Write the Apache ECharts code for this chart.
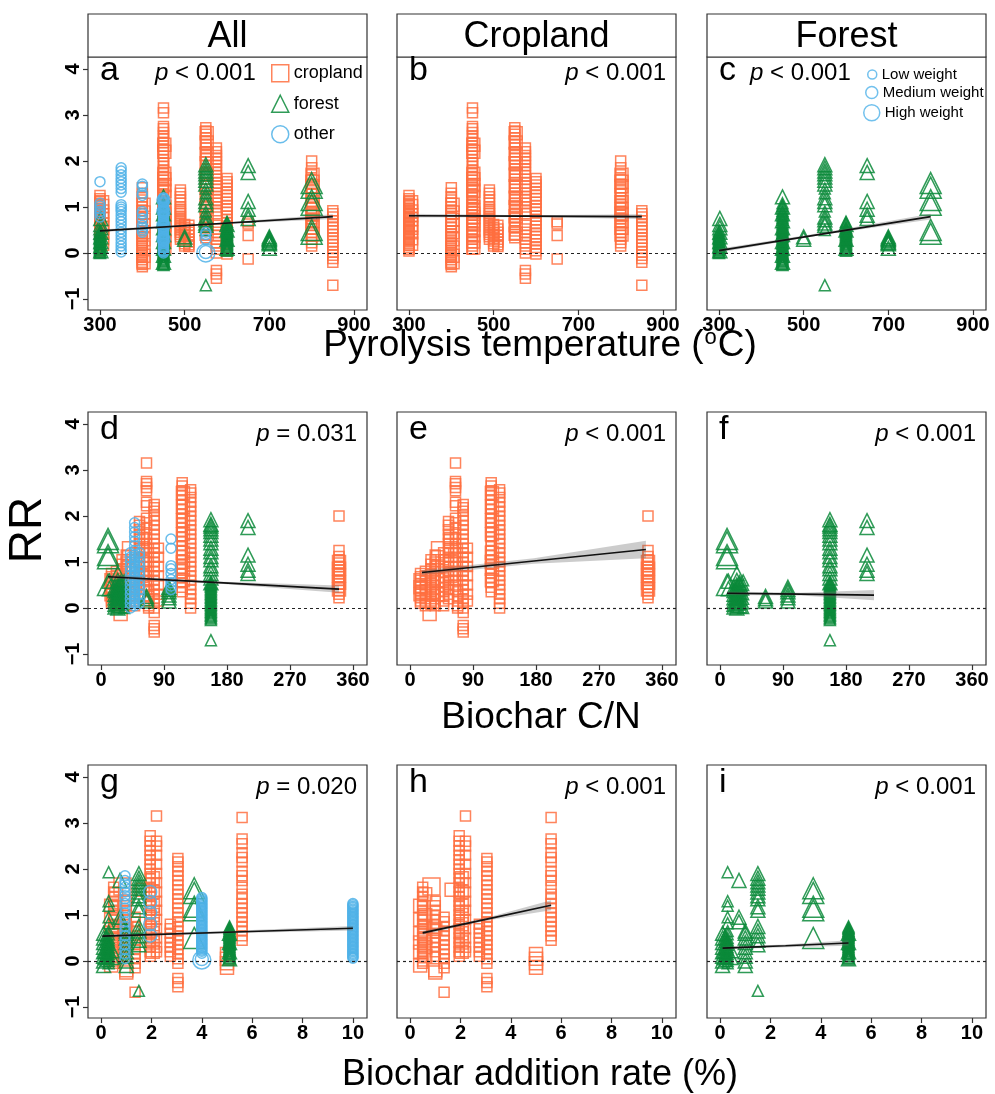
<!DOCTYPE html>
<html>
<head>
<meta charset="utf-8">
<script src="https://cdn.jsdelivr.net/npm/echarts@6/dist/echarts.min.js"></script>
<style>
html, body { margin: 0; background: #fff; }
#chart { width: 995px; height: 1094px; }
</style>
</head>
<body>
<div id="chart"></div>
<script>
// columns of points: [x, weight class (1 low, 2 medium, 3 high), [RR values]]
const tempCrop = [
  [300, 1, [1.25, 1.18, 1.12, 1.08, 1.04, 1.0, 0.96, 0.92, 0.88, 0.84, 0.8, 0.76, 0.72, 0.68, 0.64, 0.6, 0.56, 0.52, 0.48, 0.44, 0.4, 0.36, 0.32, 0.28, 0.24, 0.2, 0.16, 0.12, 0.08, 0.04]],
  [305, 2, [1.1, 1.02, 0.9, 0.82, 0.74, 0.62, 0.55, 0.45, 0.32, 0.2]],
  [400, 1, [1.42, 1.3, 1.22, 1.15, 1.08, 1.0, 0.92, 0.85, 0.78, 0.7, 0.62, 0.55, 0.48, 0.42, 0.35, 0.28, 0.22, 0.15, 0.1, 0.05, 0.0, -0.05, -0.1, -0.15, -0.2, -0.25, -0.3]],
  [403, 2, [1.05, 0.88, 0.72, 0.6, 0.45, 0.3, 0.12, -0.06, -0.2]],
  [450, 1, [3.15, 3.05, 2.75, 2.7, 2.62, 2.55, 2.48, 2.4, 2.32, 2.25, 2.18, 2.1, 2.02, 1.95, 1.88, 1.8, 1.72, 1.65, 1.58, 1.5, 1.42, 1.35, 1.28, 1.2, 1.12, 1.05, 0.98, 0.9, 0.82, 0.75, 0.68, 0.6, 0.52, 0.45, 0.38, 0.3, 0.22, 0.15, 0.08]],
  [452, 2, [2.35, 2.2, 1.72, 1.6, 1.48, 1.35, 1.22, 1.0, 0.92, 0.85, 0.78, 0.7, 0.62, 0.5, 0.38, 0.25, 0.12]],
  [490, 1, [1.37, 1.3, 1.22, 1.15, 1.08, 1.0, 0.95, 0.9, 0.85, 0.8, 0.75, 0.7, 0.65, 0.6, 0.55, 0.5, 0.45, 0.4, 0.35, 0.3]],
  [500, 1, [0.62, 0.56, 0.5, 0.44, 0.38, 0.32, 0.26, 0.2, 0.15]],
  [510, 1, [0.6, 0.52, 0.45, 0.38, 0.3, 0.24, 0.18, 0.14]],
  [550, 1, [2.72, 2.65, 2.58, 2.5, 2.42, 2.35, 2.28, 2.2, 2.12, 2.05, 1.98, 1.9, 1.82, 1.75, 1.68, 1.6, 1.52, 1.45, 1.38, 1.3, 1.22, 1.15, 1.08, 1.0, 0.92, 0.85, 0.78, 0.7, 0.62, 0.55, 0.48, 0.4, 0.33]],
  [552, 2, [2.6, 2.4, 2.15, 1.95, 1.7, 1.45, 1.2, 1.0, 0.8, 0.6, 0.42]],
  [575, 1, [2.28, 2.2, 2.12, 2.05, 1.98, 1.9, 1.82, 1.75, 1.68, 1.6, 1.52, 1.45, 1.38, 1.3, 1.22, 1.15, 1.08, 1.0, 0.92, 0.85, 0.6, 0.52, 0.45, 0.38, 0.3, 0.22, 0.15, 0.08, 0.0, -0.38, -0.46, -0.55]],
  [600, 1, [1.62, 1.55, 1.48, 1.4, 1.32, 1.25, 1.18, 1.1, 1.02, 0.95, 0.88, 0.8, 0.72, 0.65, 0.58, 0.5, 0.42, 0.35, 0.28, 0.2, 0.12, 0.05, -0.02]],
  [650, 1, [0.68, 0.63, 0.38, -0.13]],
  [800, 1, [2.0, 1.85, 1.7, 1.6, 1.5, 1.42, 1.35, 1.28, 1.2, 1.12, 1.05, 0.98, 0.9, 0.82, 0.75, 0.68, 0.6, 0.52, 0.45, 0.38, 0.3, 0.22, 0.15]],
  [802, 2, [1.7, 1.55, 1.45, 1.25, 1.1, 0.95, 0.85, 0.7, 0.55, 0.4]],
  [850, 1, [0.92, 0.85, 0.78, 0.7, 0.62, 0.55, 0.48, 0.4, 0.32, 0.25, 0.18, 0.1, 0.02, -0.05, -0.12, -0.2, -0.7]]
];
const tempForest = [
  [300, 1, [0.0, 0.02, 0.05, 0.07, 0.09, 0.12, 0.14, 0.16, 0.19, 0.21, 0.24, 0.26, 0.29, 0.31, 0.34, 0.37, 0.4, 0.44, 0.48]],
  [302, 2, [0.05, 0.15, 0.25, 0.35, 0.45, 0.55, 0.62, 0.75]],
  [450, 1, [-0.26, -0.24, -0.21, -0.18, -0.16, -0.13, -0.1, -0.08, -0.05, -0.02, 0.0, 0.03, 0.06, 0.08, 0.11, 0.14, 0.17, 0.2, 0.23, 0.26, 0.29, 0.32, 0.35, 0.38, 0.41, 0.44, 0.47, 0.5, 0.53, 0.56, 0.6, 0.64, 0.68, 0.72, 0.76, 0.8, 0.84, 0.88, 0.92, 0.97, 1.02, 1.08]],
  [450, 2, [1.22, 1.0, 0.85, 0.7, 0.55, 0.4, 0.25, 0.1, -0.05, -0.2]],
  [500, 2, [0.35, 0.3]],
  [550, 2, [1.92, 1.85, 1.78, 1.72, 1.65, 1.58, 1.5, 1.2, 1.12, 1.05, 0.78, 0.72, 0.65, 0.6]],
  [550, 1, [1.4, 1.3, 0.9, 0.5, -0.7]],
  [600, 1, [0.05, 0.08, 0.1, 0.13, 0.15, 0.18, 0.2, 0.23, 0.25, 0.28, 0.3, 0.33, 0.35, 0.38, 0.4, 0.43, 0.45, 0.48, 0.5, 0.53, 0.55, 0.6, 0.64, 0.68]],
  [600, 2, [0.1, 0.3, 0.5, 0.62]],
  [650, 2, [1.9, 1.75, 1.12, 0.95, 0.82, 0.75]],
  [700, 2, [0.35, 0.32, 0.3, 0.27, 0.24, 0.22, 0.2, 0.1]],
  [800, 3, [1.52, 1.42, 1.15, 1.05, 0.5, 0.42]]
];
const tempOther = [
  [300, 1, [1.55, 1.08, 1.02, 0.96, 0.9, 0.85, 0.78]],
  [350, 1, [1.85, 1.78, 1.7, 1.62, 1.55, 1.48, 1.4, 1.32, 1.05, 1.0, 0.95, 0.9, 0.82, 0.75, 0.68, 0.6, 0.52, 0.45, 0.38, 0.3, 0.22, 0.15, 0.08, 0.02]],
  [400, 1, [1.5, 1.45, 1.3, 1.25, 0.9, 0.85, 0.75, 0.6, 0.55, 0.5, 0.45]],
  [450, 1, [0.0, 0.03, 0.05, 0.08, 0.1, 0.12, 0.14, 0.17, 0.2, 0.22, 0.25, 0.28, 0.3, 0.32, 0.34, 0.37, 0.4, 0.42, 0.45, 0.48, 0.5, 0.52, 0.55, 0.58, 0.6, 0.62, 0.65, 0.68, 0.7, 0.72, 0.75, 0.78, 0.8, 0.82, 0.85, 0.88, 0.9, 0.92, 0.95, 0.98, 1.0, 1.02, 1.05, 1.08, 1.1, 1.12, 1.15, 1.18, 1.2]],
  [450, 2, [0.3, 0.6, 0.9, 1.15]],
  [550, 3, [0.0]],
  [550, 2, [0.02]],
  [550, 1, [0.45, 0.4, 0.3]]
];

const cnCrop = [
  [15, 1, [0.75, 0.68, 0.6, 0.52, 0.45, 0.38, 0.3, 0.22, 0.15, 0.1]],
  [15, 2, [0.6, 0.45, 0.3]],
  [22, 1, [0.8, 0.7, 0.6, 0.5, 0.4, 0.3, 0.2, 0.1, 0.05]],
  [28, 2, [-0.13]],
  [30, 1, [1.05, 0.95, 0.85, 0.75, 0.65, 0.55, 0.45, 0.35, 0.25, 0.15, 0.08]],
  [36, 1, [1.15, 1.0, 0.9, 0.8, 0.7, 0.6, 0.5, 0.4, 0.3, 0.2, 0.1, 0.05]],
  [40, 2, [1.3, 1.1, 0.9, 0.6, 0.3]],
  [48, 1, [1.2, 1.05, 0.9, 0.78, 0.65, 0.55, 0.45, 0.35, 0.25, 0.15, 0.05]],
  [55, 1, [1.88, 1.8, 1.7, 1.6, 1.5, 1.4, 1.3, 1.2, 1.1, 1.0, 0.9, 0.8, 0.7, 0.6, 0.5, 0.4, 0.3, 0.2]],
  [58, 2, [1.5, 1.3, 1.0, 0.7]],
  [65, 1, [3.15, 2.75, 2.7, 2.62, 2.55, 2.3, 2.22, 1.95, 1.85, 1.75, 1.6, 1.5, 1.4, 1.3, 1.2, 1.1, 1.0, 0.9, 0.8, 0.7, 0.6, 0.5, 0.4]],
  [68, 1, [0.35, 0.25, 0.15, 0.05, 0.0]],
  [76, 1, [2.25, 2.18, 2.1, 2.0, 1.9, 1.8, 1.7, 1.6, 1.5, 1.4, 1.3, 1.2, 1.1, 1.0, 0.9, 0.8, 0.7, 0.6, 0.5, 0.4, 0.3, 0.2, 0.1, 0.0, -0.1, -0.38, -0.45, -0.52]],
  [82, 1, [1.3, 1.1, 0.9, 0.7, 0.5, 0.3, 0.15]],
  [116, 1, [2.72, 2.65, 2.55, 2.45, 2.35, 2.25, 2.15, 2.05, 1.95, 1.85, 1.75, 1.65, 1.55, 1.45, 1.35, 1.25, 1.15, 1.05, 0.95, 0.85, 0.75, 0.65, 0.55, 0.45, 0.35]],
  [117, 2, [2.5, 2.2, 1.9, 1.6, 1.2, 1.0, 0.85, 0.6]],
  [128, 1, [2.57, 2.5, 2.4, 2.3, 2.2, 2.1, 2.0, 1.9, 1.8, 1.7, 1.6, 1.5, 1.4, 1.3, 1.2, 1.1, 1.0, 0.9, 0.8, 0.7, 0.6, 0.5, 0.4, 0.3, 0.2, 0.1, 0.0]],
  [340, 1, [2.0, 1.25, 1.12, 1.05, 0.98, 0.9, 0.82, 0.75, 0.68, 0.6, 0.52, 0.45, 0.38, 0.3, 0.22]],
  [340, 2, [1.0, 0.85, 0.7, 0.55, 0.4]]
];
const cnForest = [
  [10, 3, [1.5, 1.43, 1.15, 1.08, 0.5]],
  [12, 2, [0.58, 0.42]],
  [20, 2, [0.45, 0.38, 0.3, 0.22, 0.15, 0.08, 0.02]],
  [24, 2, [0.75, 0.6, 0.5, 0.45, 0.4, 0.35, 0.3, 0.25, 0.2, 0.15, 0.1, 0.05, 0.0]],
  [28, 2, [0.55, 0.5, 0.42, 0.35, 0.28, 0.2, 0.12, 0.05]],
  [33, 1, [0.6, 0.5, 0.4, 0.3, 0.2, 0.1, 0.0]],
  [65, 2, [0.25, 0.2, 0.15]],
  [97, 2, [0.45, 0.4, 0.35, 0.28, 0.22, 0.15]],
  [157, 1, [-0.26, -0.23, -0.2, -0.17, -0.14, -0.11, -0.08, -0.05, -0.02, 0.01, 0.04, 0.07, 0.1, 0.13, 0.16, 0.19, 0.22, 0.25, 0.28, 0.31, 0.34, 0.37, 0.4, 0.43, 0.46, 0.49, 0.52, 0.55, -0.7]],
  [157, 2, [1.92, 1.82, 1.78, 1.72, 1.66, 1.58, 1.5, 1.42, 1.3, 1.22, 1.12, 1.05, 0.92, 0.85, 0.75, 0.65, 0.55]],
  [210, 2, [1.9, 1.75, 1.15, 0.95, 0.82, 0.75]]
];
const cnOther = [
  [42, 1, [1.2, 1.1, 1.0, 0.9, 0.8, 0.7, 0.6, 0.5, 0.4, 0.3, 0.2, 0.1, 0.0]],
  [48, 1, [1.85, 1.75, 1.65, 1.55, 1.45, 1.35, 1.25, 1.15, 1.1, 1.05, 1.0, 0.95, 0.9, 0.85, 0.8, 0.75, 0.7, 0.65, 0.6, 0.55, 0.5, 0.45, 0.4, 0.35, 0.3, 0.25, 0.2, 0.15, 0.1, 0.05]],
  [55, 1, [1.2, 1.12, 1.0, 0.9, 0.8, 0.7, 0.6, 0.5, 0.4, 0.3, 0.2, 0.1]],
  [100, 1, [1.5, 1.3, 0.92, 0.85, 0.75, 0.62, 0.55, 0.48, 0.4]]
];

const rateCrop = [
  [0.5, 1, [1.6, 1.5, 1.4, 1.3, 1.2, 1.1, 1.0, 0.9, 0.8, 0.7, 0.6, 0.5, 0.4, 0.3, 0.2, 0.1, 0.0, -0.05]],
  [0.4, 2, [1.2, 0.9, 0.6, 0.4, 0.2, -0.1]],
  [0.6, 2, [1.45, 1.0, 0.75, 0.5, 0.3, 0.1]],
  [0.85, 3, [1.62]],
  [1.0, 1, [1.3, 1.2, 1.1, 1.0, 0.9, 0.8, 0.7, 0.6, 0.5, 0.4, 0.3, 0.2, 0.1]],
  [1.0, 2, [-0.2, -0.25, 0.7]],
  [1.35, 1, [0.95, 0.85, 0.75, 0.65, 0.55, 0.45, 0.35, 0.25, 0.15, 0.05, -0.05, -0.15, -0.68]],
  [1.65, 2, [1.55]],
  [1.95, 1, [2.72, 2.6, 2.5, 2.4, 2.3, 2.2, 2.1, 2.0, 1.9, 1.8, 1.7, 1.6, 1.5, 1.4, 1.3, 1.2, 1.1, 1.0, 0.9, 0.8, 0.7, 0.6, 0.5, 0.4, 0.3, 0.2, 0.1]],
  [2.05, 2, [1.8, 1.5, 1.2, 1.0, 0.8, 0.6, 0.4, 0.2]],
  [2.2, 1, [3.15, 2.6, 2.5, 2.3, 2.1, 1.9, 1.7, 1.5, 1.3, 1.1, 0.9, 0.7, 0.5, 0.3, 0.2]],
  [2.75, 1, [0.8, 0.7, 0.6, 0.5, 0.4, 0.3, 0.2, 0.1]],
  [3.05, 1, [2.23, 2.15, 2.05, 1.95, 1.85, 1.75, 1.65, 1.55, 1.45, 1.35, 1.25, 1.15, 1.05, 0.95, 0.85, 0.75, 0.65, 0.55, 0.45, 0.35, 0.25, 0.15, 0.05, -0.05, -0.38, -0.47, -0.56]],
  [5.0, 2, [0.15, 0.05, -0.05, -0.15]],
  [5.6, 1, [3.12, 2.65, 2.55, 2.35, 2.25, 2.15, 1.95, 1.85, 1.75, 1.6, 1.45, 1.35, 1.25, 1.15, 1.05, 0.95, 0.85, 0.75, 0.65, 0.55, 0.45]]
];
const rateForest = [
  [0.1, 2, [0.6, 0.5, 0.4, 0.3, 0.2, 0.1, 0.0, -0.1]],
  [0.2, 1, [0.55, 0.48, 0.42, 0.36, 0.3, 0.24, 0.18, 0.12, 0.06, 0.0]],
  [0.3, 1, [1.93, 1.3, 1.2, 0.95, 0.82, 0.65, 0.58, 0.5, 0.45, 0.4, 0.35, 0.3, 0.25, 0.2, 0.15, 0.1, 0.05, 0.0, -0.05]],
  [0.3, 3, [0.3, 0.15]],
  [0.75, 2, [1.75, 0.95, 0.85]],
  [1.0, 2, [0.65, 0.6, 0.5, 0.4, 0.3, 0.2, 0.1, 0.0, -0.1]],
  [1.5, 2, [1.9, 1.8, 1.72, 1.65, 1.58, 1.5, 1.42, 1.35, 1.18, 1.1, 0.75, 0.65, 0.55, 0.45, 0.35]],
  [1.5, 1, [-0.65]],
  [3.7, 3, [1.58, 1.48, 1.18, 1.1, 0.5]],
  [5.1, 1, [0.75, 0.72, 0.7, 0.67, 0.65, 0.62, 0.6, 0.57, 0.55, 0.52, 0.5, 0.47, 0.45, 0.42, 0.4, 0.37, 0.35, 0.32, 0.3, 0.27, 0.25, 0.22, 0.2, 0.17, 0.15, 0.12, 0.1, 0.07, 0.05]],
  [5.1, 2, [0.6, 0.4, 0.2, 0.05]]
];
const rateOther = [
  [0.95, 1, [1.85, 1.75, 1.68, 1.6, 1.5, 1.42, 1.35, 1.25, 1.15, 1.05, 0.95, 0.85, 0.75, 0.65, 0.55, 0.45, 0.35, 0.25, 0.15, 0.05]],
  [1.95, 2, [1.5, 1.28, 1.05, 0.8, 0.55]],
  [4.0, 1, [1.38, 1.35, 1.32, 1.29, 1.26, 1.23, 1.2, 1.17, 1.14, 1.11, 1.08, 1.05, 1.02, 0.99, 0.96, 0.93, 0.9, 0.87, 0.84, 0.81, 0.78, 0.75, 0.72, 0.69, 0.66, 0.63, 0.6, 0.57, 0.54, 0.51, 0.48, 0.45, 0.42, 0.39, 0.36, 0.33, 0.3, 0.27, 0.24, 0.21, 0.17]],
  [4.0, 3, [0.02]],
  [4.0, 2, [0.04]],
  [10, 1, [1.25, 1.22, 1.19, 1.16, 1.13, 1.1, 1.07, 1.04, 1.01, 0.98, 0.95, 0.92, 0.89, 0.86, 0.83, 0.8, 0.77, 0.74, 0.71, 0.68, 0.65, 0.62, 0.59, 0.56, 0.53, 0.5, 0.47, 0.44, 0.41, 0.38, 0.35, 0.32, 0.29, 0.26, 0.23, 0.2, 0.17, 0.14, 0.11, 0.08, 0.06]]
];

// fitted lines: [x, fit, lower CI, upper CI]
const fitA = [[300, 0.48, 0.45, 0.51], [575, 0.635, 0.62, 0.65], [850, 0.79, 0.74, 0.84]];
const fitB = [[300, 0.81, 0.77, 0.85], [575, 0.80, 0.78, 0.82], [850, 0.79, 0.74, 0.84]];
const fitC = [[300, 0.05, 0.01, 0.09], [550, 0.42, 0.40, 0.45], [800, 0.79, 0.73, 0.85]];
const fitD = [[10, 0.68, 0.64, 0.72], [175, 0.545, 0.52, 0.57], [340, 0.41, 0.33, 0.49]];
const fitE = [[17, 0.77, 0.72, 0.82], [177, 1.02, 0.96, 1.08], [337, 1.27, 1.08, 1.46]];
const fitF = [[10, 0.32, 0.28, 0.36], [115, 0.30, 0.27, 0.33], [220, 0.28, 0.17, 0.39]];
const fitG = [[0.05, 0.54, 0.51, 0.57], [5, 0.625, 0.60, 0.65], [10, 0.71, 0.66, 0.76]];
const fitH = [[0.5, 0.61, 0.57, 0.65], [3.05, 0.91, 0.88, 0.94], [5.6, 1.21, 1.1, 1.32]];
const fitI = [[0.1, 0.28, 0.25, 0.31], [2.6, 0.33, 0.30, 0.36], [5.1, 0.39, 0.33, 0.45]];

const pValues = ['< 0.001', '< 0.001', '< 0.001', '= 0.031', '< 0.001', '< 0.001', '= 0.020', '< 0.001', '< 0.001'];
const panelLetters = ['a', 'b', 'c', 'd', 'e', 'f', 'g', 'h', 'i'];
const stripNames = ['All', 'Cropland', 'Forest'];
const tempTicks = [300, 500, 700, 900];
const cnTicks = [0, 90, 180, 270, 360];
const rateTicks = [0, 2, 4, 6, 8, 10];
const rrTicks = [-1, 0, 1, 2, 3, 4];

const FONT = '"Liberation Sans", Arial, Helvetica, sans-serif';
const COLORS = { cropland: '#FF6F40', forest: '#0B8A3A', other: '#4FB1E8' };
const SHAPES = { cropland: 'rect', forest: 'triangle', other: 'circle' };
const SIZES = { rect: [0, 10, 13, 17], triangle: [0, 11, 14, 21], circle: [0, 10, 13, 18] };

const LEFTS = [88, 397, 707], TOPS = [57, 412, 765], W = 279, H = 253;

const rows = [
  { ticks: tempTicks, min: 271.7, max: 930.7, data: { cropland: tempCrop, forest: tempForest, other: tempOther }, fits: [fitA, fitB, fitC] },
  { ticks: cnTicks, min: -18.6, max: 380, data: { cropland: cnCrop, forest: cnForest, other: cnOther }, fits: [fitD, fitE, fitF] },
  { ticks: rateTicks, min: -0.52, max: 10.56, data: { cropland: rateCrop, forest: rateForest, other: rateOther }, fits: [fitG, fitH, fitI] }
];
const colGroups = [['cropland', 'forest', 'other'], ['cropland'], ['forest']];

function points(cols) {
  const out = [];
  cols.forEach(([x, w, ys]) => ys.forEach(y => out.push([x, y, w])));
  return out;
}

const grids = [], xAxes = [], yAxes = [], series = [], graphics = [];

rows.forEach((row, r) => {
  colGroups.forEach((groups, c) => {
    const gi = r * 3 + c;
    grids.push({ left: LEFTS[c], top: TOPS[r], width: W, height: H, show: true, borderColor: '#333', borderWidth: 1.2, backgroundColor: '#fff' });
    xAxes.push({
      type: 'value', gridIndex: gi, min: row.min, max: row.max,
      axisLine: { show: false, onZero: false }, splitLine: { show: false },
      axisTick: { show: true, length: 5, customValues: row.ticks, lineStyle: { color: '#333', width: 1.2 } },
      axisLabel: { customValues: row.ticks, margin: 5, color: '#000', fontSize: 20, fontWeight: 'bold', fontFamily: FONT }
    });
    yAxes.push({
      type: 'value', gridIndex: gi, min: -1.24, max: 4.26,
      axisLine: { show: false, onZero: false }, splitLine: { show: false },
      axisTick: { show: c === 0, length: 5, customValues: rrTicks, lineStyle: { color: '#333', width: 1.2 } },
      axisLabel: { show: c === 0, customValues: rrTicks, rotate: 90, margin: 5, color: '#000', fontSize: 20, fontWeight: 'bold', fontFamily: FONT,
        formatter: v => String(v).replace('-', '\u2212') }
    });
    groups.forEach((g, k) => {
      const shape = SHAPES[g];
      const s = {
        name: g, type: 'scatter', xAxisIndex: gi, yAxisIndex: gi,
        symbol: shape,
        symbolSize: v => SIZES[shape][v[2]],
        data: points(row.data[g]),
        itemStyle: { color: 'rgba(255,255,255,0)', borderColor: COLORS[g], borderWidth: 1.5, opacity: 0.85 },
        z: 2
      };
      if (k === 0) {
        s.markLine = {
          silent: true, symbol: ['none', 'none'], label: { show: false },
          lineStyle: { color: '#222', type: [3, 3], width: 1.2 },
          data: [{ yAxis: 0 }]
        };
      }
      series.push(s);
    });
    const fit = row.fits[c];
    series.push({
      type: 'custom', xAxisIndex: gi, yAxisIndex: gi, data: fit, z: 4, silent: true,
      renderItem: (params, api) => {
        if (params.dataIndex !== 0) return;
        const lower = fit.map(d => api.coord([d[0], d[2]]));
        const upper = fit.map(d => api.coord([d[0], d[3]])).reverse();
        return { type: 'polygon', shape: { points: lower.concat(upper) }, style: { fill: 'rgba(110,110,110,0.35)' } };
      }
    });
    series.push({
      type: 'line', xAxisIndex: gi, yAxisIndex: gi, data: fit.map(d => [d[0], d[1]]),
      symbol: 'none', lineStyle: { color: '#111', width: 1.6 }, z: 5, silent: true
    });

    // panel letter and p-value
    graphics.push({ type: 'text', z: 100, style: { text: panelLetters[gi], x: LEFTS[c] + 12, y: TOPS[r] + (r === 0 ? 31 : 35), textVerticalAlign: 'bottom', font: '34px ' + FONT, fill: '#000' } });
    let px = LEFTS[c] + W - 10, align = 'right';
    if (gi === 0) { px = 155; align = 'left'; }
    if (gi === 2) { px = 750; align = 'left'; }
    graphics.push({
      type: 'text', z: 100,
      style: {
        text: '{i|p} ' + pValues[gi], x: px, y: TOPS[r] + (r === 0 ? 28 : 34), textAlign: align, textVerticalAlign: 'bottom',
        font: '24px ' + FONT, fill: '#000',
        rich: { i: { fontStyle: 'italic', fontSize: 24, fontFamily: FONT } }
      }
    });
  });
});

// empty series to feed the weight legend
['Low weight', 'Medium weight', 'High weight'].forEach(n => {
  series.push({ name: n, type: 'scatter', xAxisIndex: 2, yAxisIndex: 2, data: [], symbol: 'circle',
    itemStyle: { color: 'rgba(255,255,255,0)', borderColor: COLORS.other, borderWidth: 1.5 } });
});

// facet strips
stripNames.forEach((name, c) => {
  graphics.push({ type: 'rect', z: 90, shape: { x: LEFTS[c], y: 14, width: W, height: 43 }, style: { fill: '#fff', stroke: '#333', lineWidth: 1.2 } });
  graphics.push({ type: 'text', z: 91, style: { text: name, x: LEFTS[c] + W / 2, y: 37, textAlign: 'center', textVerticalAlign: 'middle', font: '36px ' + FONT, fill: '#000' } });
});

// axis titles
graphics.push({ type: 'text', z: 100, style: { text: 'Pyrolysis temperature ({s|o}C)', x: 540, y: 346, textAlign: 'center', textVerticalAlign: 'middle', font: '37px ' + FONT, fill: '#000',
  rich: { s: { fontSize: 22, fontFamily: FONT, verticalAlign: 'top', padding: [0, 1, 16, 1] } } } });
graphics.push({ type: 'text', z: 100, style: { text: 'Biochar C/N', x: 541, y: 718, textAlign: 'center', textVerticalAlign: 'middle', font: '37px ' + FONT, fill: '#000' } });
graphics.push({ type: 'text', z: 100, style: { text: 'Biochar addition rate (%)', x: 540, y: 1075, textAlign: 'center', textVerticalAlign: 'middle', font: '36px ' + FONT, fill: '#000' } });
graphics.push({ type: 'text', z: 100, x: 28, y: 530, rotation: Math.PI / 2, style: { text: 'RR', x: 0, y: 0, textAlign: 'center', textVerticalAlign: 'middle', font: '46px ' + FONT, fill: '#000' } });

const legendText = { color: '#000', fontSize: 18, fontFamily: FONT };
const weightText = { color: '#000', fontSize: 15, fontFamily: FONT };
const hollow = col => ({ color: 'rgba(255,255,255,0)', borderColor: col, borderWidth: 1.5 });

const chart = echarts.init(document.getElementById('chart'), null, { renderer: 'canvas' });
chart.setOption({
  animation: false,
  backgroundColor: '#fff',
  grid: grids,
  xAxis: xAxes,
  yAxis: yAxes,
  series: series,
  legend: [
    { orient: 'vertical', left: 266, top: 59, itemWidth: 17, itemHeight: 17, itemGap: 12, selectedMode: false, textStyle: legendText,
      data: [
        { name: 'cropland', icon: 'rect', itemStyle: hollow(COLORS.cropland) },
        { name: 'forest', icon: 'triangle', itemStyle: hollow(COLORS.forest) },
        { name: 'other', icon: 'circle', itemStyle: hollow(COLORS.other) }
      ] },
    { left: 862, top: 62, itemWidth: 9, itemHeight: 9, selectedMode: false, textStyle: weightText,
      data: [{ name: 'Low weight', icon: 'circle', itemStyle: hollow(COLORS.other) }] },
    { left: 860, top: 80, itemWidth: 12, itemHeight: 12, selectedMode: false, textStyle: weightText,
      data: [{ name: 'Medium weight', icon: 'circle', itemStyle: hollow(COLORS.other) }] },
    { left: 858, top: 99, itemWidth: 16, itemHeight: 16, selectedMode: false, textStyle: weightText,
      data: [{ name: 'High weight', icon: 'circle', itemStyle: hollow(COLORS.other) }] }
  ],
  graphic: graphics
});
</script>
</body>
</html>
